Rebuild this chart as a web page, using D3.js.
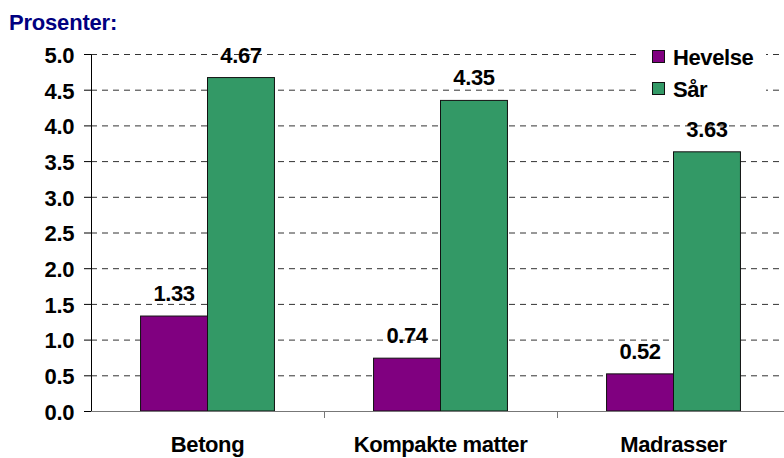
<!DOCTYPE html>
<html>
<head>
<meta charset="utf-8">
<script src="https://cdn.jsdelivr.net/npm/d3@7"></script>
<style>
  body { margin: 0; background: #fff; }
  svg text { font-family: "Liberation Sans", Arial, sans-serif; font-weight: bold; }
</style>
</head>
<body>
<div id="chart"></div>
<script>
// chart data
const categories = ["Betong", "Kompakte matter", "Madrasser"];
const seriesNames = ["Hevelse", "Sår"];
const hevelse = [1.33, 0.74, 0.52];
const saar = [4.67, 4.35, 3.63];
const yTicks = [0, 0.5, 1, 1.5, 2, 2.5, 3, 3.5, 4, 4.5, 5];
const colors = ["#800080", "#339966"];

const width = 784, height = 458;
const margin = { top: 54, right: -6, bottom: 47, left: 91 };
const innerWidth = width - margin.left - margin.right;
const innerHeight = height - margin.top - margin.bottom;
const fontSize = "22px";
const spacing = "-0.4px";

const svg = d3.select("#chart").append("svg")
    .attr("width", width)
    .attr("height", height);

const g = svg.append("g")
    .attr("transform", `translate(${margin.left}, ${margin.top})`);

const x = d3.scaleBand()
    .domain(categories)
    .range([0, innerWidth])
    .paddingInner(0)
    .paddingOuter(0);

const x1 = d3.scaleBand()
    .domain(seriesNames)
    .range([0, x.bandwidth()])
    .paddingInner(0)
    .paddingOuter(0.74);

const y = d3.scaleLinear()
    .domain([0, 5])
    .range([innerHeight, 0]);

// title
svg.append("text")
    .attr("x", 9)
    .attr("y", 30)
    .attr("fill", "#000080")
    .style("font-size", fontSize)
    .style("letter-spacing", "-0.2px")
    .text("Prosenter:");

// gridlines
g.append("g")
    .selectAll("line")
    .data(yTicks.filter(d => d > 0))
    .join("line")
    .attr("x1", 0)
    .attr("x2", width - margin.left)
    .attr("y1", d => y(d) + 0.5)
    .attr("y2", d => y(d) + 0.5)
    .attr("stroke", "#333")
    .attr("stroke-width", 1)
    .attr("stroke-dasharray", "6,5");

// Y axis
const yAxis = g.append("g")
    .call(d3.axisLeft(y).tickValues(yTicks).tickFormat(d3.format(".1f")).tickSize(7).tickSizeOuter(0));
yAxis.select(".domain").attr("stroke", "#000");
yAxis.selectAll(".tick line").attr("stroke", "#000");
yAxis.selectAll("text")
    .attr("x", -17)
    .attr("dy", "0.38em")
    .attr("fill", "#000")
    .style("font-size", fontSize)
    .style("font-family", "Liberation Sans, Arial, sans-serif")
    .style("font-weight", "bold")
    .style("letter-spacing", spacing);

// bars
const groups = g.selectAll("g.cat")
    .data(categories.map((c, i) => ({ cat: c, values: [hevelse[i], saar[i]] })))
    .join("g")
    .attr("class", "cat")
    .attr("transform", d => `translate(${x(d.cat)}, 0)`);

groups.selectAll("rect")
    .data(d => d.values.map((v, j) => ({ name: seriesNames[j], v, j })))
    .join("rect")
    .attr("x", d => x1(d.name))
    .attr("y", d => y(d.v))
    .attr("width", x1.bandwidth())
    .attr("height", d => innerHeight - y(d.v))
    .attr("fill", d => colors[d.j])
    .attr("stroke", "#111")
    .attr("stroke-width", 1);

// value labels
groups.selectAll("text.val")
    .data(d => d.values.map((v, j) => ({ name: seriesNames[j], v, j })))
    .join("text")
    .attr("class", "val")
    .attr("x", d => x1(d.name) + x1.bandwidth() / 2)
    .attr("y", d => y(d.v) - 15)
    .attr("text-anchor", "middle")
    .attr("fill", "#000")
    .style("font-size", fontSize)
    .style("letter-spacing", spacing)
    .text(d => d.v.toFixed(2));

// X axis
const xAxisG = g.append("g")
    .attr("transform", `translate(0, ${innerHeight})`);
xAxisG.append("line")
    .attr("x1", 0)
    .attr("x2", width - margin.left)
    .attr("y1", 0.5)
    .attr("y2", 0.5)
    .attr("stroke", "#777");
xAxisG.selectAll("line.tick")
    .data(categories.slice(1))
    .join("line")
    .attr("class", "tick")
    .attr("x1", d => x(d) + 0.5)
    .attr("x2", d => x(d) + 0.5)
    .attr("y1", 0)
    .attr("y2", 7)
    .attr("stroke", "#777");
xAxisG.selectAll("text")
    .data(categories)
    .join("text")
    .attr("x", d => x(d) + x.bandwidth() / 2)
    .attr("y", 41)
    .attr("text-anchor", "middle")
    .attr("fill", "#000")
    .style("font-size", fontSize)
    .style("letter-spacing", spacing)
    .text(d => d);

// legend
const legend = svg.append("g").attr("transform", "translate(638, 40)");
legend.append("rect")
    .attr("x", 0).attr("y", 0)
    .attr("width", 128).attr("height", 64)
    .attr("fill", "#fff");
seriesNames.forEach((name, i) => {
    legend.append("rect")
        .attr("x", 14.5)
        .attr("y", 10.5 + i * 32)
        .attr("width", 12)
        .attr("height", 12)
        .attr("fill", colors[i])
        .attr("stroke", "#111");
    legend.append("text")
        .attr("x", 35)
        .attr("y", 25 + i * 32)
        .attr("fill", "#000")
        .style("font-size", fontSize)
        .style("letter-spacing", spacing)
        .text(name);
});
</script>
</body>
</html>
